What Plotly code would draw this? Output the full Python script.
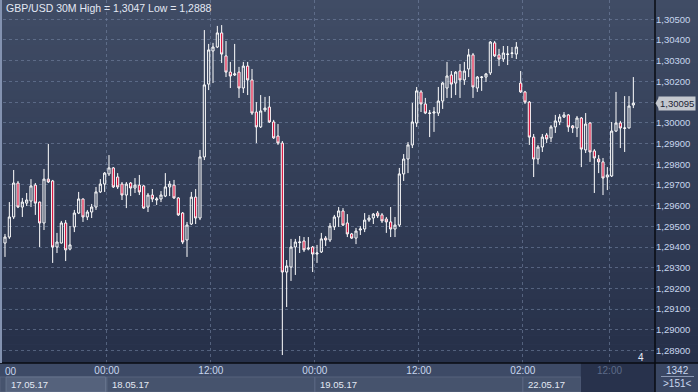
import plotly.graph_objects as go

# ---------------- data (GBP/USD 30M candles) ----------------
bar_no = list(range(-1, 146))
opens = [1.29410, 1.29419, 1.29448, 1.29545, 1.29709, 1.29593, 1.29612, 1.29622, 1.29699, 1.29617,
         1.29516, 1.29728, 1.29719, 1.29400, 1.29419, 1.29516, 1.29390, 1.29497, 1.29564, 1.29632,
         1.29545, 1.29569, 1.29593, 1.29666, 1.29704, 1.29753, 1.29782, 1.29738, 1.29704, 1.29651,
         1.29709, 1.29685, 1.29699, 1.29695, 1.29593, 1.29651, 1.29627, 1.29632, 1.29646, 1.29690,
         1.29699, 1.29637, 1.29564, 1.29434, 1.29511, 1.29641, 1.29540, 1.29835, 1.30187, 1.30347,
         1.30366, 1.30434, 1.30323, 1.30245, 1.30231, 1.30245, 1.30168, 1.30274, 1.30207, 1.30052,
         1.29980, 1.30062, 1.30076, 1.30004, 1.29936, 1.29902, 1.29279, 1.29303, 1.29400, 1.29421,
         1.29429, 1.29390, 1.29400, 1.29366, 1.29376, 1.29443, 1.29434, 1.29497, 1.29545, 1.29574,
         1.29516, 1.29463, 1.29443, 1.29482, 1.29487, 1.29530, 1.29540, 1.29564, 1.29555, 1.29535,
         1.29521, 1.29487, 1.29506, 1.29753, 1.29825, 1.29893, 1.29999, 1.30149, 1.30091, 1.30045,
         1.30047, 1.30047, 1.30105, 1.30168, 1.30231, 1.30192, 1.30250, 1.30207, 1.30260, 1.30328,
         1.30168, 1.30219, 1.30221, 1.30241, 1.30386, 1.30328, 1.30308, 1.30330, 1.30335, 1.30332,
         1.30192, 1.30149, 1.30100, 1.29931, 1.29825, 1.29883, 1.29941, 1.29927, 1.29980, 1.30004,
         1.30028, 1.30038, 1.29985, 1.29975, 1.30023, 1.29869, 1.29999, 1.29864, 1.29825, 1.29811,
         1.29738, 1.29743, 1.29960, 1.29999, 1.29973, 1.29975, 1.30086]
highs = [1.29419, 1.29463, 1.29617, 1.29772, 1.29719, 1.29637, 1.29661, 1.29728, 1.29709, 1.29619,
         1.29777, 1.29898, 1.29724, 1.29468, 1.29526, 1.29530, 1.29501, 1.29579, 1.29666, 1.29634,
         1.29579, 1.29608, 1.29690, 1.29728, 1.29762, 1.29844, 1.29786, 1.29757, 1.29714, 1.29714,
         1.29714, 1.29733, 1.29748, 1.29699, 1.29661, 1.29680, 1.29641, 1.29670, 1.29757, 1.29719,
         1.29724, 1.29641, 1.29569, 1.29521, 1.29666, 1.29680, 1.29869, 1.30448, 1.30381, 1.30386,
         1.30468, 1.30472, 1.30395, 1.30294, 1.30381, 1.30270, 1.30294, 1.30294, 1.30260, 1.30100,
         1.30134, 1.30125, 1.30129, 1.30014, 1.29994, 1.29912, 1.29337, 1.29439, 1.29439, 1.29453,
         1.29448, 1.29448, 1.29405, 1.29410, 1.29468, 1.29453, 1.29516, 1.29555, 1.29593, 1.29588,
         1.29559, 1.29468, 1.29492, 1.29501, 1.29564, 1.29555, 1.29564, 1.29574, 1.29564, 1.29545,
         1.29593, 1.29545, 1.29782, 1.29849, 1.29907, 1.30096, 1.30173, 1.30158, 1.30120, 1.30062,
         1.30076, 1.30173, 1.30197, 1.30294, 1.30250, 1.30250, 1.30284, 1.30294, 1.30357, 1.30337,
         1.30226, 1.30226, 1.30241, 1.30395, 1.30395, 1.30357, 1.30371, 1.30371, 1.30366, 1.30390,
         1.30250, 1.30154, 1.30105, 1.29946, 1.29893, 1.29946, 1.29951, 1.29989, 1.30038, 1.30042,
         1.30052, 1.30042, 1.29989, 1.30033, 1.30028, 1.30047, 1.30004, 1.29873, 1.29844, 1.29830,
         1.29786, 1.30004, 1.30149, 1.30009, 1.30129, 1.30129, 1.30221]
lows = [1.29376, 1.29352, 1.29439, 1.29535, 1.29588, 1.29545, 1.29598, 1.29593, 1.29555, 1.29400,
        1.29482, 1.29709, 1.29323, 1.29371, 1.29417, 1.29332, 1.29384, 1.29472, 1.29559, 1.29521,
        1.29530, 1.29540, 1.29579, 1.29661, 1.29666, 1.29743, 1.29685, 1.29680, 1.29627, 1.29588,
        1.29646, 1.29661, 1.29651, 1.29584, 1.29569, 1.29617, 1.29603, 1.29617, 1.29641, 1.29646,
        1.29632, 1.29550, 1.29414, 1.29352, 1.29506, 1.29511, 1.29530, 1.29820, 1.30158, 1.30192,
        1.30361, 1.30289, 1.30221, 1.30168, 1.30226, 1.30120, 1.30144, 1.30134, 1.30038, 1.29902,
        1.29975, 1.30052, 1.29999, 1.29922, 1.29893, 1.28878, 1.29110, 1.29236, 1.29265, 1.29371,
        1.29376, 1.29384, 1.29279, 1.29323, 1.29371, 1.29405, 1.29424, 1.29482, 1.29497, 1.29501,
        1.29448, 1.29439, 1.29414, 1.29458, 1.29472, 1.29521, 1.29511, 1.29540, 1.29516, 1.29468,
        1.29448, 1.29448, 1.29497, 1.29719, 1.29757, 1.29878, 1.29980, 1.30052, 1.30042, 1.29931,
        1.29956, 1.30033, 1.30067, 1.30120, 1.30120, 1.30134, 1.30120, 1.30183, 1.30221, 1.30120,
        1.30149, 1.30154, 1.30197, 1.30231, 1.30318, 1.30274, 1.30294, 1.30279, 1.30313, 1.30308,
        1.30144, 1.30091, 1.29893, 1.29738, 1.29801, 1.29859, 1.29902, 1.29907, 1.29951, 1.29989,
        1.30023, 1.29956, 1.29951, 1.29931, 1.29786, 1.29854, 1.29811, 1.29661, 1.29757, 1.29651,
        1.29675, 1.29738, 1.29956, 1.29878, 1.29859, 1.29973, 1.30071]
closes = [1.29414, 1.29448, 1.29545, 1.29709, 1.29593, 1.29617, 1.29627, 1.29695, 1.29612, 1.29516,
          1.29728, 1.29714, 1.29400, 1.29424, 1.29516, 1.29386, 1.29410, 1.29564, 1.29632, 1.29545,
          1.29569, 1.29593, 1.29666, 1.29704, 1.29757, 1.29782, 1.29690, 1.29690, 1.29651, 1.29704,
          1.29685, 1.29699, 1.29666, 1.29588, 1.29651, 1.29632, 1.29632, 1.29651, 1.29690, 1.29704,
          1.29637, 1.29555, 1.29424, 1.29506, 1.29641, 1.29540, 1.29835, 1.30183, 1.30352, 1.30366,
          1.30434, 1.30332, 1.30245, 1.30226, 1.30236, 1.30168, 1.30274, 1.30207, 1.30047, 1.29980,
          1.30057, 1.30071, 1.30004, 1.29927, 1.29902, 1.29279, 1.29308, 1.29400, 1.29424, 1.29424,
          1.29386, 1.29395, 1.29366, 1.29371, 1.29439, 1.29434, 1.29501, 1.29545, 1.29574, 1.29506,
          1.29463, 1.29443, 1.29477, 1.29487, 1.29530, 1.29540, 1.29559, 1.29550, 1.29526, 1.29521,
          1.29487, 1.29506, 1.29753, 1.29825, 1.29893, 1.30004, 1.30154, 1.30091, 1.30047, 1.30047,
          1.30052, 1.30105, 1.30192, 1.30226, 1.30187, 1.30245, 1.30207, 1.30250, 1.30328, 1.30173,
          1.30221, 1.30221, 1.30236, 1.30390, 1.30323, 1.30308, 1.30337, 1.30332, 1.30337, 1.30366,
          1.30149, 1.30100, 1.29931, 1.29825, 1.29883, 1.29931, 1.29922, 1.29980, 1.30009, 1.30028,
          1.30038, 1.29980, 1.29975, 1.30023, 1.29873, 1.29994, 1.29859, 1.29830, 1.29811, 1.29733,
          1.29748, 1.29960, 1.29999, 1.29975, 1.29975, 1.30081, 1.30095]

time_tick_pos = [23.5, 47.5, 71.5, 95.5, 119.5, 139.5]
time_tick_labels = ["00:00", "12:00", "00:00", "12:00", "02:00", "12:00"]
date_labels = ["17.05.17", "18.05.17", "19.05.17", "22.05.17"]
date_starts = [0.25, 23.5, 71.5, 119.5]
date_row_end = 132.9
price_ticks = [1.289, 1.290, 1.291, 1.292, 1.293, 1.294, 1.295, 1.296, 1.297, 1.298,
               1.299, 1.300, 1.301, 1.302, 1.303, 1.304, 1.305]
last_price = 1.30095
title_text = "GBP/USD 30M High = 1,3047 Low = 1,2888"

# ---------------- layout geometry ----------------
W, H = 698, 392
L, R, T, B = 3, 43, 0, 29
PW, PH = W - L - R, H - T - B
XMIN, XMAX = -0.46, 150.0
YMIN, YMAX = 1.288396, 1.305932
FONT = "Liberation Sans"
LABEL_COL = "#c8d6ee"


def px_x(px):
    return (px - L) / PW


def px_y(py):
    return 1 - (py - T) / PH


def idx_x(i):
    return (i - XMIN) / (XMAX - XMIN)


fig = go.Figure()
fig.add_trace(go.Candlestick(
    x=bar_no, open=opens, high=highs, low=lows, close=closes,
    increasing=dict(line=dict(color="#ffffff", width=1), fillcolor="rgba(0,0,0,0)"),
    decreasing=dict(line=dict(color="#ffffff", width=1), fillcolor="#d8002e"),
    whiskerwidth=0, hoverinfo="skip", showlegend=False,
))

shapes = []
# vertical gradient background (plot + right axis strip)
n_bands = 40
top_c, bot_c = (64, 76, 101), (38, 48, 73)
for k in range(n_bands):
    t = k / (n_bands - 1)
    c = tuple(round(top_c[j] + (bot_c[j] - top_c[j]) * t) for j in range(3))
    y0 = px_y(PH * k / n_bands)
    y1 = px_y(PH * (k + 1) / n_bands)
    shapes.append(dict(type="rect", xref="paper", yref="paper", x0=px_x(0), x1=px_x(W),
                       y0=y1, y1=y0 + 0.001, fillcolor="rgb(%d,%d,%d)" % c,
                       line=dict(width=0), layer="below"))
# bottom time strip
shapes.append(dict(type="rect", xref="paper", yref="paper", x0=px_x(0), x1=1,
                   y0=px_y(H), y1=0, fillcolor="#3d4a66", line=dict(width=0), layer="below"))
# date row
shapes.append(dict(type="rect", xref="paper", yref="paper", x0=px_x(0), x1=idx_x(date_row_end),
                   y0=px_y(H), y1=px_y(377), fillcolor="#46536d",
                   line=dict(width=1, color="#56637d"), layer="below"))
shapes.append(dict(type="rect", xref="paper", yref="paper", x0=idx_x(date_starts[0]),
                   x1=idx_x(date_starts[1]) - 0.002, y0=px_y(H), y1=px_y(377),
                   fillcolor="#55627c", line=dict(width=1, color="#66738c"), layer="below"))
for s in date_starts[1:]:
    shapes.append(dict(type="line", xref="paper", yref="paper", x0=idx_x(s), x1=idx_x(s),
                       y0=px_y(H), y1=px_y(377), line=dict(width=1, color="#5f6c86"), layer="below"))
# dark "future" area of time strip
shapes.append(dict(type="rect", xref="paper", yref="paper", x0=idx_x(date_row_end), x1=1,
                   y0=px_y(H), y1=0, fillcolor="#28324c", line=dict(width=0), layer="below"))
# bottom-right corner box
shapes.append(dict(type="rect", xref="paper", yref="paper", x0=1, x1=px_x(W),
                   y0=px_y(H), y1=0, fillcolor="#3a4763", line=dict(width=0), layer="below"))
shapes.append(dict(type="line", xref="paper", yref="paper", x0=px_x(661), x1=px_x(694),
                   y0=px_y(376.5), y1=px_y(376.5), line=dict(width=1, color="#8a98b3")))
# black separators
shapes.append(dict(type="line", xref="paper", yref="paper", x0=1, x1=1, y0=px_y(H), y1=1,
                   line=dict(width=1.5, color="#080b12")))
shapes.append(dict(type="line", xref="paper", yref="paper", x0=px_x(0), x1=px_x(W), y0=0, y1=0,
                   line=dict(width=1.5, color="#080b12")))
# light left border
shapes.append(dict(type="line", xref="paper", yref="paper", x0=px_x(1), x1=px_x(1), y0=0, y1=1,
                   line=dict(width=2, color="#8392b0")))
# current price tag arrow
shapes.append(dict(type="path", xref="paper", yref="y",
                   path="M %f %f L %f %f L %f %f Z" % (px_x(655.5), last_price, px_x(659), last_price + 0.00028,
                                                       px_x(659), last_price - 0.00028),
                   fillcolor="#c3c7ce", line=dict(width=0)))

annotations = [
    dict(text=title_text, xref="paper", yref="paper", x=px_x(4), y=px_y(8), xanchor="left",
         yanchor="middle", showarrow=False, font=dict(family=FONT, size=10.5, color="#e3e9f4")),
    dict(text="00", xref="paper", yref="paper", x=px_x(3), y=px_y(371), xanchor="left",
         yanchor="middle", showarrow=False, font=dict(family=FONT, size=10, color=LABEL_COL)),
    dict(text="1342", xref="paper", yref="paper", x=px_x(677), y=px_y(370), xanchor="center",
         yanchor="middle", showarrow=False, font=dict(family=FONT, size=10, color=LABEL_COL)),
    dict(text="&gt;151&lt;", xref="paper", yref="paper", x=px_x(677), y=px_y(383.5), xanchor="center",
         yanchor="middle", showarrow=False, font=dict(family=FONT, size=10, color=LABEL_COL)),
    dict(text="4", xref="paper", yref="paper", x=px_x(641), y=px_y(357), xanchor="center",
         yanchor="middle", showarrow=False, font=dict(family=FONT, size=10, color="#e8eef8")),
    dict(text=("%.5f" % last_price).replace(".", ","), xref="paper", yref="y", x=px_x(658),
         y=last_price, xanchor="left", yanchor="middle", showarrow=False, bgcolor="#c3c7ce",
         borderpad=1, font=dict(family=FONT, size=9.5, color="#1c2334")),
]
for lab, s in zip(date_labels, date_starts):
    annotations.append(dict(text=lab, xref="paper", yref="paper", x=idx_x(s), xshift=3,
                            y=px_y(384.5), xanchor="left", yanchor="middle", showarrow=False,
                            font=dict(family=FONT, size=9.5, color="#e3e9f4")))

tick_text_x = [t if k < len(time_tick_labels) - 1 else '<span style="color:#5d6b88">%s</span>' % t
               for k, t in enumerate(time_tick_labels)]
tick_text_y = ["" if abs(v - 1.301) < 1e-9 else ("%.5f" % v).replace(".", ",") for v in price_ticks]

fig.update_layout(
    width=W, height=H, margin=dict(l=L, r=R, t=T, b=B, pad=0),
    paper_bgcolor="#3c4965", plot_bgcolor="rgba(0,0,0,0)",
    font=dict(family=FONT, size=10, color=LABEL_COL),
    shapes=shapes, annotations=annotations, showlegend=False,
    xaxis=dict(range=[XMIN, XMAX], rangeslider=dict(visible=False), tickmode="array",
               tickvals=time_tick_pos, ticktext=tick_text_x, showgrid=True,
               gridcolor="rgba(120,136,168,0.55)", griddash="3px,3px", gridwidth=1,
               zeroline=False, showline=False, ticks="", ticklen=0,
               tickfont=dict(family=FONT, size=10, color=LABEL_COL)),
    yaxis=dict(range=[YMIN, YMAX], side="right", tickmode="array", tickvals=price_ticks,
               ticktext=tick_text_y, showgrid=True, gridcolor="rgba(120,136,168,0.55)",
               griddash="3px,3px", gridwidth=1, zeroline=False, showline=False, ticks="",
               ticklen=0, tickfont=dict(family=FONT, size=9.5, color=LABEL_COL)),
)

fig.write_html("out.html", config={"displayModeBar": False},
               post_script="document.body.style.margin='0';document.body.style.overflow='hidden';")
